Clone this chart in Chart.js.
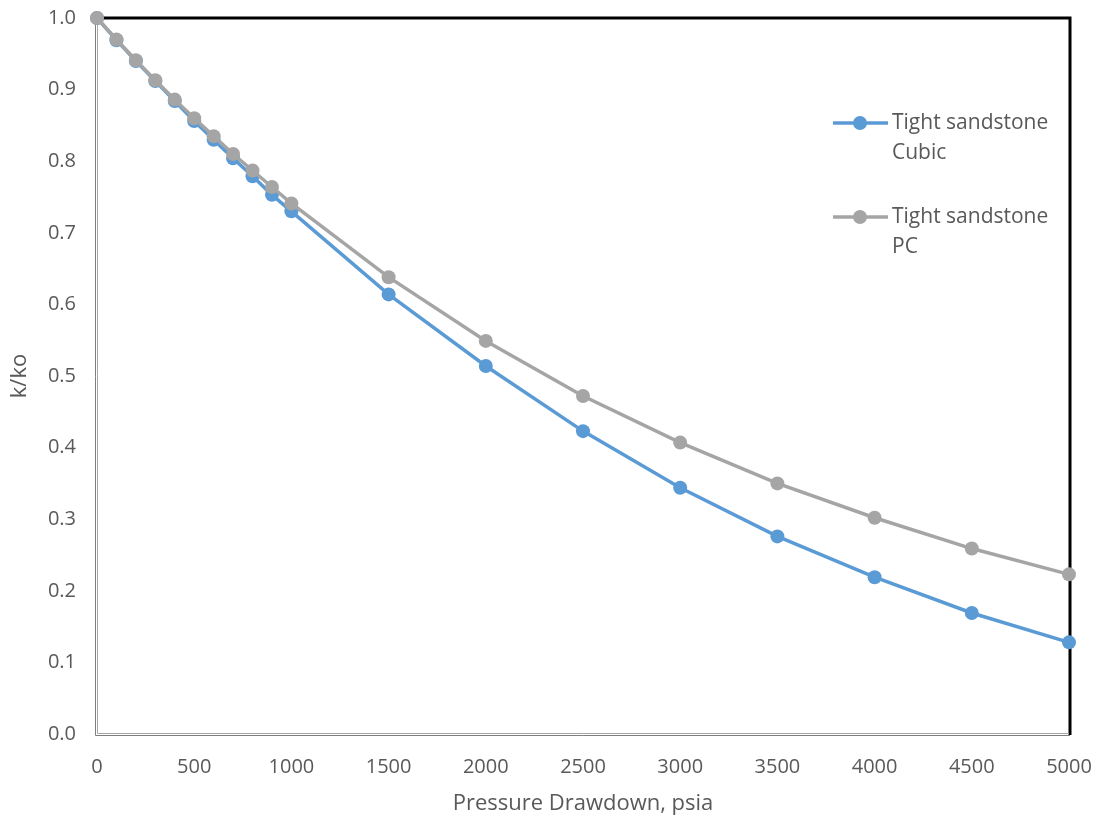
<!DOCTYPE html>
<html>
<head>
<meta charset="utf-8">
<script src="https://cdn.jsdelivr.net/npm/chart.js@4"></script>
<style>
    html, body { margin: 0; padding: 0; background: #ffffff; }
    #chart-box { width: 1098px; height: 820px; }
</style>
</head>
<body>
<div id="chart-box"><canvas id="chart-container"></canvas></div>
<script>
const drawdown = [0, 100, 200, 300, 400, 500, 600, 700, 800, 900, 1000, 1500, 2000, 2500, 3000, 3500, 4000, 4500, 5000];
const cubicValues = [1.0, 0.969, 0.940, 0.912, 0.884, 0.856, 0.830, 0.804, 0.779, 0.753, 0.730, 0.614, 0.514, 0.423, 0.344, 0.276, 0.219, 0.169, 0.128];
const pcValues = [1.0, 0.970, 0.941, 0.913, 0.886, 0.860, 0.835, 0.810, 0.787, 0.764, 0.741, 0.638, 0.549, 0.472, 0.407, 0.350, 0.302, 0.259, 0.223];
const seriesNames = [["Tight sandstone", "Cubic"], ["Tight sandstone", "PC"]];
const seriesColors = ["#5B9BD5", "#A5A5A5"];
const xTitle = "Pressure Drawdown, psia";
const yTitle = "k/ko";

const textColor = "#595959";
const fontFamily = "'Open Sans', 'Liberation Sans', sans-serif";

function toPoints(values) {
    return drawdown.map((x, i) => ({ x: x, y: values[i] }));
}

// frame: grey double lines on left/bottom, black on top/right
const framePlugin = {
    id: "frame",
    beforeDatasetsDraw(chart) {
        const { ctx, chartArea: a } = chart;
        ctx.save();
        ctx.lineCap = "butt";
        ctx.strokeStyle = "#000000";
        ctx.lineWidth = 3;
        ctx.beginPath();
        ctx.moveTo(a.left, a.top);
        ctx.lineTo(a.right + 1, a.top);
        ctx.lineTo(a.right + 1, a.bottom + 1);
        ctx.stroke();

        ctx.lineWidth = 1;
        ctx.strokeStyle = "#7f7f7f";
        ctx.beginPath();
        ctx.moveTo(a.left - 1.5, a.top);
        ctx.lineTo(a.left - 1.5, a.bottom + 1.5);
        ctx.lineTo(a.right + 1, a.bottom + 1.5);
        ctx.stroke();
        ctx.strokeStyle = "#a6a6a6";
        ctx.beginPath();
        ctx.moveTo(a.left + 0.5, a.top);
        ctx.lineTo(a.left + 0.5, a.bottom - 0.5);
        ctx.lineTo(a.right, a.bottom - 0.5);
        ctx.stroke();
        ctx.restore();
    }
};

// two-line legend drawn inside the plot
const legendPlugin = {
    id: "innerLegend",
    afterDraw(chart) {
        const ctx = chart.ctx;
        const rows = [123, 217];
        ctx.save();
        chart.data.datasets.forEach(function (ds, i) {
            const y = rows[i];
            ctx.strokeStyle = ds.borderColor;
            ctx.lineWidth = 3.5;
            ctx.beginPath();
            ctx.moveTo(833, y);
            ctx.lineTo(888, y);
            ctx.stroke();
            ctx.fillStyle = ds.backgroundColor;
            ctx.beginPath();
            ctx.arc(860, y, 7, 0, Math.PI * 2);
            ctx.fill();

            ctx.fillStyle = textColor;
            ctx.font = "21px " + fontFamily;
            ctx.textAlign = "left";
            ctx.textBaseline = "middle";
            seriesNames[i].forEach(function (line, j) {
                ctx.fillText(line, 892, y + j * 30);
            });
        });
        ctx.restore();
    }
};

function noOverflow(scale) {
    scale.paddingTop = 0;
    scale.paddingBottom = 0;
    scale.paddingLeft = 0;
    scale.paddingRight = 0;
}

const ctx = document.getElementById("chart-container").getContext("2d");
new Chart(ctx, {
    type: "line",
    data: {
        datasets: [
            {
                label: seriesNames[0].join(" "),
                data: toPoints(cubicValues),
                borderColor: seriesColors[0],
                backgroundColor: seriesColors[0],
                borderWidth: 3.5,
                pointRadius: 7,
                pointHoverRadius: 7,
                pointBorderWidth: 0,
                clip: false,
                tension: 0,
                order: 1,
            },
            {
                label: seriesNames[1].join(" "),
                data: toPoints(pcValues),
                borderColor: seriesColors[1],
                backgroundColor: seriesColors[1],
                borderWidth: 3.5,
                pointRadius: 7,
                pointHoverRadius: 7,
                pointBorderWidth: 0,
                clip: false,
                tension: 0,
                order: 0,
            },
        ],
    },
    options: {
        responsive: true,
        maintainAspectRatio: false,
        animation: false,
        layout: {
            padding: { left: 0, top: 18, right: 29, bottom: 0 },
        },
        plugins: {
            legend: { display: false },
            tooltip: { enabled: false },
        },
        scales: {
            x: {
                type: "linear",
                min: 0,
                max: 5000,
                grid: { display: false, drawTicks: false },
                border: { display: false },
                ticks: {
                    stepSize: 500,
                    color: textColor,
                    padding: 21,
                    maxRotation: 0,
                    font: { family: fontFamily, size: 20 },
                    callback: function (value) {
                        return String(value);
                    },
                },
                title: {
                    display: true,
                    text: xTitle,
                    color: textColor,
                    padding: { top: 0, bottom: 3 },
                    font: { family: fontFamily, size: 22 },
                },
                afterFit(scale) {
                    scale.height = 86;
                    noOverflow(scale);
                },
            },
            y: {
                min: 0,
                max: 1,
                grid: { display: false, drawTicks: false },
                border: { display: false },
                ticks: {
                    stepSize: 0.1,
                    color: textColor,
                    padding: 21,
                    font: { family: fontFamily, size: 20 },
                    callback: function (value) {
                        return value.toFixed(1);
                    },
                },
                title: {
                    display: true,
                    text: yTitle,
                    color: textColor,
                    padding: { top: 7, bottom: 0 },
                    font: { family: fontFamily, size: 22 },
                },
                afterFit(scale) {
                    scale.width = 97;
                    noOverflow(scale);
                },
            },
        },
    },
    plugins: [framePlugin, legendPlugin],
});
</script>
</body>
</html>
